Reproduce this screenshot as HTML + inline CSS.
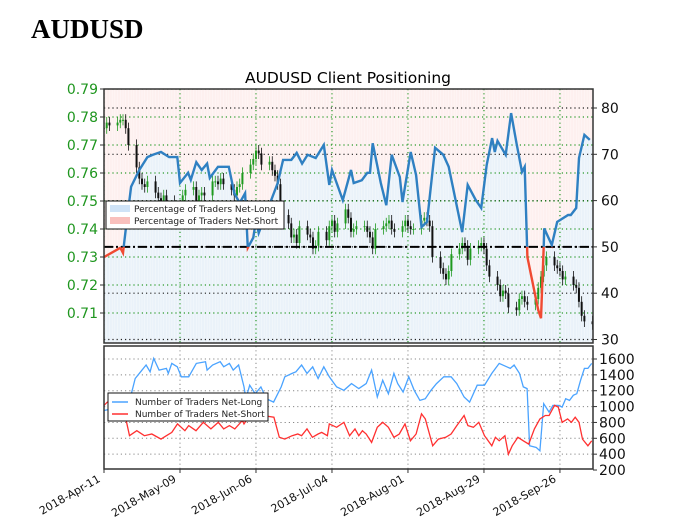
<!DOCTYPE html>
<html><head><meta charset="utf-8">
<style>
html,body{margin:0;padding:0;background:#fff;}
body{width:679px;height:532px;overflow:hidden;position:relative;font-family:"DejaVu Sans","Liberation Sans",sans-serif;}
#title{position:absolute;left:31px;top:14px;font:bold 27px "Liberation Serif",serif;color:#000;}
svg{position:absolute;left:0;top:0;}
</style></head>
<body>
<div id="title">AUDUSD</div>
<svg id="chart" width="679" height="532"></svg>
<script>
// ---- data ----
const dateTicks = ["2018-Apr-11","2018-May-09","2018-Jun-06","2018-Jul-04","2018-Aug-01","2018-Aug-29","2018-Sep-26"];
const priceTicks = [0.71,0.72,0.73,0.74,0.75,0.76,0.77,0.78,0.79];
const pctTicks = [30,40,50,60,70,80];
const tradersTicks = [200,400,600,800,1000,1200,1400,1600];
// daily closes (weekdays from 2018-04-11)
const closes = [0.776,0.778,0.777,0.778,0.779,0.779,0.776,0.770,0.762,0.758,0.756,0.755,0.757,0.753,0.751,0.750,0.752,0.750,
0.748,0.746,0.745,0.752,0.754,0.755,0.750,0.752,0.753,0.752,0.757,0.757,0.756,0.758,0.756,0.754,0.752,0.755,0.756,0.760,
0.763,0.765,0.768,0.767,0.763,0.764,0.761,0.759,0.756,0.745,0.742,0.737,0.738,0.735,0.741,0.738,0.737,0.733,0.734,0.739,
0.736,0.741,0.743,0.739,0.742,0.747,0.744,0.739,0.740,0.741,0.741,0.739,0.737,0.733,0.740,0.741,0.742,0.743,0.740,0.739,
0.741,0.743,0.741,0.740,0.740,0.743,0.744,0.743,0.741,0.730,0.726,0.724,0.722,0.725,0.731,0.733,0.735,0.734,0.729,0.733,
0.734,0.735,0.733,0.727,0.723,0.720,0.716,0.718,0.717,0.712,0.711,0.715,0.716,0.714,0.713,0.715,0.719,0.723,0.727,0.730,
0.727,0.726,0.725,0.722,0.723,0.720,0.719,0.714,0.709,0.707,0.706];
const pctDays = [0,6,7,8,10,13,16,18,21,24,27,28,31,32,34,36,38,39,42,46,48,50,52,53,55,56,57,64,66,69,71,73,75,78,81,83,84,88,91,92,95,97,98,99,102,104,106,109,110,113,115,117,119,122,125,127,132,134,137,139,141,143,144,145,148,150,152,154,155,156,160,161,162,162.2,165,167,171,172,174,175,177,179];
const pctLong = [47.8,49.8,48.7,53.7,63,66.6,69.4,69.9,70.5,69.4,69.4,63.8,66,64.5,68.3,66.6,68,64.9,67.3,67.3,61.6,59.5,61.6,49.8,52,55.8,53,63.8,68.8,68.8,70.3,68,69.9,69.2,72,63.4,66.6,60.1,66.6,63.8,64.4,66,66,72.4,63.8,59,69.9,65.1,59.7,70.5,65.5,54.3,55.4,71.4,69.9,67.3,53.2,63.4,60.1,58.4,67.7,73.5,70.5,72.9,69.9,78.9,72.4,66.2,67.3,47.8,36.4,34.6,50,54,50.4,55.4,56.9,56.9,58.4,69.2,74.2,73.1];
const longDays = [0,9,11.5,13.5,15.5,17,18.3,20.3,23,23.7,25,27,28.5,31.2,34,37.4,38,40,42.8,44.1,46.2,47.6,49.6,51.6,52.3,53.7,55.7,57.8,59.8,62.5,65.3,66.6,69.3,70.7,72.8,74.8,76.9,78.9,81,83,85.7,88.4,91.2,93.9,96.6,98.6,100.7,102.7,104.8,106.8,108.2,110.2,112.3,114.3,116.4,118.4,120.5,122.5,125.2,127.9,130,132.7,134.7,137.5,140.2,142.9,145.6,148.4,149.7,151.1,153.1,154.5,155.9,156.8,159.3,160.6,162,164,165.4,167.4,168.8,170.1,171.5,172.9,174.2,175.6,177,178.3,179.7];
const longCount = [951,1015,1354,1439,1524,1439,1608,1460,1481,1418,1545,1502,1375,1375,1545,1566,1460,1524,1566,1502,1545,1460,1524,1248,1099,1269,1163,1248,1099,1057,1248,1375,1418,1439,1524,1418,1502,1354,1502,1375,1248,1205,1290,1227,1290,1460,1121,1333,1163,1418,1290,1184,1375,1205,1078,1099,1205,1290,1375,1375,1290,1121,1057,1269,1269,1418,1545,1502,1481,1524,1418,1248,1227,505,484,442,1036,930,1015,1015,993,1099,1078,1142,1163,1333,1481,1481,1545];
const shortDays = [0,1.2,6.7,9.4,12.1,14.9,17.6,21,23,25,27.1,29.8,31.2,33.9,36.6,39.4,42.1,44.1,46.2,48.2,51,51.6,53.7,55.7,58.5,62.6,64.6,66.6,69.3,71.4,72.8,74.8,76.8,78.9,80.2,82.3,83,85.7,88.4,90.5,92.5,93.9,95.2,96.6,98.6,100.7,102.7,104.8,106.8,108.8,110.9,112.9,115,117,118.4,121.1,123.2,125.9,127.9,130,132.7,134.1,136.1,138.1,140.2,142.9,144.2,145.6,147.7,149,150.4,152.5,154.5,156.5,158.6,160.6,162.6,164,166,167.4,168.8,170.8,172.2,173.6,175,176.3,178.3,179.7];
const shortCount = [1015,1057,1057,633,696,633,654,590,633,675,781,696,760,696,802,718,802,718,760,718,824,781,887,887,887,866,612,590,633,654,633,718,612,654,675,633,781,739,802,633,718,633,696,654,548,739,802,739,612,654,781,569,654,909,845,505,590,612,654,760,887,760,739,802,633,505,612,569,633,400,505,612,569,527,718,845,887,887,1015,993,802,845,802,866,802,590,505,569];

// ---- axes ----
const X0=104, X1=593, PXDAY=2.714;
const xD = d => X0 + d*PXDAY;
const yP = p => 89 + (0.79-p)*2800;
const yPct = v => 108 + (80-v)*4.63;
const yT = v => 359 + (1600-v)*0.0793;
const TOP=89, BOT=343, BTOP=346, BBOT=469;
const NS='http://www.w3.org/2000/svg';
const svg=document.getElementById('chart');
function mk(tag, attrs, parent){const e=document.createElementNS(NS,tag);for(const k in attrs)e.setAttribute(k,attrs[k]);(parent||svg).appendChild(e);return e;}
const defs=mk('defs',{});
const c1=mk('clipPath',{id:'clipTop'},defs);mk('rect',{x:X0,y:TOP,width:X1-X0,height:BOT-TOP},c1);
const cAbove=mk('clipPath',{id:'clipAbove'},defs);mk('rect',{x:X0,y:TOP,width:X1-X0,height:yPct(50)-TOP},cAbove);
const cBelow=mk('clipPath',{id:'clipBelow'},defs);mk('rect',{x:X0,y:yPct(50),width:X1-X0,height:BOT-yPct(50)},cBelow);

const start=new Date(Date.UTC(2018,3,11));
const cDays=[];{let d=0;while(cDays.length<closes.length){const dt=new Date(start.getTime()+d*86400000);const w=dt.getUTCDay();if(w!==0&&w!==6)cDays.push(d);d++;}}

const topG=mk('g',{'clip-path':'url(#clipTop)'});


mk('rect',{x:X0,y:TOP,width:X1-X0,height:BOT-TOP,fill:'#fdf0ef'},topG);
let area='M'+xD(pctDays[0])+','+BOT;
pctDays.forEach((d,i)=>{area+=' L'+xD(d).toFixed(1)+','+yPct(pctLong[i]).toFixed(1);});
area+=' L'+X1+','+yPct(pctLong[pctLong.length-1]).toFixed(1)+' L'+X1+','+BOT+' Z';
const ar=mk('path',{d:area,fill:'#eaf2f9'},topG);


for(let d=0; xD(d)<X1; d+=1){mk('line',{x1:xD(d),x2:xD(d),y1:TOP,y2:BOT,stroke:'#ffffff','stroke-width':0.5,opacity:0.6},topG);}
pctTicks.forEach(v=>mk('line',{x1:X0,x2:X1,y1:yPct(v),y2:yPct(v),stroke:'#222','stroke-width':1.2,'stroke-dasharray':'1.2,3'},topG));
priceTicks.forEach(v=>mk('line',{x1:X0,x2:X1,y1:yP(v),y2:yP(v),stroke:'#2a9a2a','stroke-width':1.2,'stroke-dasharray':'1.2,3'},topG));
dateTicks.forEach((t,i)=>mk('line',{x1:xD(i*28),x2:xD(i*28),y1:TOP,y2:BOT,stroke:'#2a9a2a','stroke-width':1.2,'stroke-dasharray':'1.2,3'},topG));
closes.forEach((c,i)=>{
  const o=i>0?closes[i-1]:c; const x=xD(cDays[i]);
  const col=c>=o?'#1f9a1f':'#111';
  const g=mk('g',{},topG);
  
  
  mk('line',{x1:x,x2:x,y1:yP(Math.max(o,c)+0.002),y2:yP(Math.min(o,c)-0.002),stroke:col,'stroke-width':0.8},g);
  mk('rect',{x:x-1,y:yP(Math.max(o,c)),width:2,height:Math.max(1,Math.abs(yP(o)-yP(c))),fill:col},g);
});
const fl=mk('line',{x1:X0,x2:X1,y1:yPct(50),y2:yPct(50),stroke:'#000','stroke-width':2,'stroke-dasharray':'9,3,2,3'},topG);


let ld='';pctDays.forEach((d,i)=>{ld+=(i?' L':'M')+xD(d).toFixed(1)+','+yPct(pctLong[i]).toFixed(1);});
const lb=mk('path',{d:ld,fill:'none',stroke:'#2f80c2','stroke-width':2.4,'clip-path':'url(#clipAbove)'},topG);


const lr=mk('path',{d:ld,fill:'none',stroke:'#f04a32','stroke-width':2.4,'clip-path':'url(#clipBelow)'},topG);


mk('rect',{x:X0,y:TOP,width:X1-X0,height:BOT-TOP,fill:'none',stroke:'#333','stroke-width':1.5});

priceTicks.forEach(v=>{const t=mk('text',{x:X0-6,y:yP(v)+5,'text-anchor':'end','font-size':14,fill:'#1f961f'});t.textContent=v.toFixed(2);

mk('line',{x1:X0-4,x2:X0,y1:yP(v),y2:yP(v),stroke:'#333'});});
pctTicks.forEach(v=>{const t=mk('text',{x:X1+8,y:yPct(v)+5,'font-size':14,fill:'#111'});t.textContent=v;

mk('line',{x1:X1,x2:X1+4,y1:yPct(v),y2:yPct(v),stroke:'#333'});});
const ttl=mk('text',{x:348,y:83,'text-anchor':'middle','font-size':15.5,fill:'#000'});ttl.textContent='AUDUSD Client Positioning';


const lg1=mk('g',{});


mk('rect',{x:106,y:201,width:178,height:28,fill:'#fff',stroke:'#111','stroke-width':1},lg1);
mk('rect',{x:110,y:205,width:20,height:7,fill:'#cfe3f7'},lg1);
mk('rect',{x:110,y:217,width:20,height:7,fill:'#f9c0bd'},lg1);
let tt=mk('text',{x:134,y:212,'font-size':9,fill:'#222'},lg1);tt.textContent='Percentage of Traders Net-Long';
tt=mk('text',{x:134,y:224,'font-size':9,fill:'#222'},lg1);tt.textContent='Percentage of Traders Net-Short';

const bg=mk('g',{});


tradersTicks.slice(1).forEach(v=>mk('line',{x1:X0,x2:X1,y1:yT(v),y2:yT(v),stroke:'#888','stroke-width':1,'stroke-dasharray':'1.2,3'},bg));
dateTicks.forEach((t,i)=>mk('line',{x1:xD(i*28),x2:xD(i*28),y1:BTOP,y2:BBOT,stroke:'#888','stroke-width':1,'stroke-dasharray':'1.2,3'},bg));
let dl='';longDays.forEach((d,i)=>{dl+=(i?' L':'M')+xD(d).toFixed(1)+','+yT(longCount[i]).toFixed(1);});
const bl=mk('path',{d:dl,fill:'none',stroke:'#4aa3ff','stroke-width':1.3},bg);


let ds='';shortDays.forEach((d,i)=>{ds+=(i?' L':'M')+xD(d).toFixed(1)+','+yT(shortCount[i]).toFixed(1);});
const bs=mk('path',{d:ds,fill:'none',stroke:'#ff3030','stroke-width':1.3},bg);


mk('rect',{x:X0,y:BTOP,width:X1-X0,height:BBOT-BTOP,fill:'none',stroke:'#333','stroke-width':1.5},bg);
tradersTicks.forEach(v=>{const t=mk('text',{x:X1+6,y:yT(v)+5,'font-size':14,fill:'#111'});t.textContent=v;

mk('line',{x1:X1,x2:X1+4,y1:yT(v),y2:yT(v),stroke:'#333'});});

const lg2=mk('g',{});


mk('rect',{x:108,y:393,width:160,height:28,fill:'#fff',stroke:'#111','stroke-width':1},lg2);
mk('line',{x1:112,x2:128,y1:402,y2:402,stroke:'#4aa3ff','stroke-width':1.5},lg2);
mk('line',{x1:112,x2:128,y1:414,y2:414,stroke:'#ff3030','stroke-width':1.5},lg2);
tt=mk('text',{x:135,y:405,'font-size':9,fill:'#222'},lg2);tt.textContent='Number of Traders Net-Long';
tt=mk('text',{x:135,y:417,'font-size':9,fill:'#222'},lg2);tt.textContent='Number of Traders Net-Short';

dateTicks.forEach((s,i)=>{const x=xD(i*28);
 mk('line',{x1:x,x2:x,y1:BBOT,y2:BBOT+4,stroke:'#333'});
 const t=mk('text',{x:x-3,y:BBOT+12,'text-anchor':'end','font-size':11,fill:'#111',transform:'rotate(-30 '+(x-3)+' '+(BBOT+12)+')'});
 t.textContent=s;
 
 
});
</script>
</body></html>
